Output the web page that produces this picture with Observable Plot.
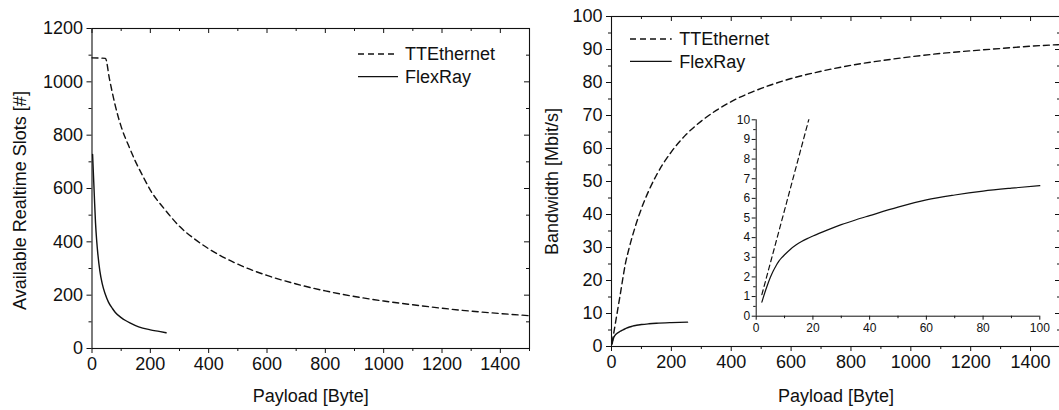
<!DOCTYPE html>
<html><head><meta charset="utf-8">
<script src="https://cdn.jsdelivr.net/npm/d3@7"></script>
<script src="https://cdn.jsdelivr.net/npm/@observablehq/plot@0.6"></script>
<style>
html,body{margin:0;padding:0;background:#fff;overflow:hidden}
#wrap{position:relative;width:1059px;height:410px;overflow:hidden;font-family:"Liberation Sans",Arial,sans-serif}
#wrap > div{position:absolute}
#wrap svg{overflow:visible;max-width:none !important}
</style></head><body><div id="wrap">
<div id="left" style="left:0;top:0;width:530px;height:410px"></div>
<div id="right" style="left:530px;top:0;width:530px;height:410px"></div>
<div id="inset" style="left:720px;top:100px;width:340px;height:250px"></div>
<div id="legL" style="left:350px;top:44px"></div>
<div id="legR" style="left:622px;top:29px"></div>
</div>
<script>
// ---------- data ----------
const seriesNames = ["TTEthernet", "FlexRay"];
const xLabel = "Payload [Byte]";
const yLabelLeft = "Available Realtime Slots [#]";
const yLabelRight = "Bandwidth [Mbit/s]";

// Left: available realtime slots
const slotsTTEPayload = [0, 46, 60, 80, 100, 125, 150, 175, 200, 250, 300, 350, 400, 500, 600, 700, 800, 900, 1000, 1100, 1200, 1300, 1400, 1500];
const slotsTTE        = [1090, 1088, 1010, 910, 832, 762, 699, 645, 594, 521, 458, 412, 374, 316, 274, 242, 216, 195, 178, 164, 151, 140, 131, 123];
const slotsFRPayload  = [2, 5, 8, 12, 16, 20, 27, 35, 45, 56, 70, 80, 100, 115, 130, 160, 200, 230, 254];
const slotsFR         = [728, 650, 572, 472, 405, 355, 290, 243, 205, 175, 150, 135, 116, 105, 96, 81, 70, 64, 59];

// Right: bandwidth
const bwTTEPayload = [2, 10, 20, 30, 46, 60, 80, 100, 125, 150, 200, 250, 300, 400, 500, 600, 700, 800, 900, 1000, 1100, 1200, 1300, 1400, 1500];
const bwTTE        = [1.1, 5.4, 10.8, 16.2, 24.9, 30.2, 36.5, 41.8, 47.3, 51.9, 59.0, 64.3, 68.3, 74.2, 78.2, 81.2, 83.4, 85.2, 86.6, 87.8, 88.8, 89.6, 90.3, 91.0, 91.5];
const bwFRPayload  = [2, 3, 4, 5, 6, 7, 8, 9, 10, 12, 14, 16, 18, 20, 25, 30, 35, 40, 50, 60, 70, 80, 90, 100, 125, 150, 200, 254];
const bwFR         = [0.72, 1.18, 1.6, 1.98, 2.3, 2.57, 2.8, 2.98, 3.13, 3.4, 3.62, 3.8, 3.95, 4.08, 4.38, 4.66, 4.9, 5.12, 5.55, 5.92, 6.17, 6.37, 6.52, 6.65, 6.88, 7.05, 7.25, 7.38];

// Ticks
const xMajor = [0, 200, 400, 600, 800, 1000, 1200, 1400];
const xMinor = [100, 300, 500, 700, 900, 1100, 1300, 1500];
const yMajorL = [0, 200, 400, 600, 800, 1000, 1200];
const yMinorL = [100, 300, 500, 700, 900, 1100];
const yMajorR = [0, 10, 20, 30, 40, 50, 60, 70, 80, 90, 100];
const yMinorR = [5, 15, 25, 35, 45, 55, 65, 75, 85, 95];
const xMajorIn = [0, 20, 40, 60, 80, 100];
const xMinorIn = [10, 30, 50, 70, 90];
const yMajorIn = [0, 1, 2, 3, 4, 5, 6, 7, 8, 9, 10];
const yMinorIn = [0.5, 1.5, 2.5, 3.5, 4.5, 5.5, 6.5, 7.5, 8.5, 9.5];

const zip = (xs, ys) => xs.map((x, i) => ({x, y: ys[i]}));
const font = "'Liberation Sans', Arial, sans-serif";
const ink = "#111";
const dash = "6,4";
const mainFont = "18px";

function mainChart({width, height, margins, yDomain, xMaj, xMin, yMaj, yMin, tte, fr, yLabel, yLabelDx, yLabelDy, xLabelDy}) {
  const fw = width - margins.left - margins.right;
  const fh = height - margins.top - margins.bottom;
  return Plot.plot({
    width, height,
    marginLeft: margins.left, marginRight: margins.right, marginTop: margins.top, marginBottom: margins.bottom,
    x: {domain: [0, 1500]},
    y: {domain: yDomain},
    style: {fontFamily: font, fontSize: mainFont, color: ink, background: "transparent", overflow: "visible"},
    marks: [
      Plot.line(tte, {x: "x", y: "y", stroke: ink, strokeWidth: 1.4, strokeDasharray: dash, curve: "monotone-x"}),
      Plot.line(fr, {x: "x", y: "y", stroke: ink, strokeWidth: 1.4, curve: "monotone-x"}),
      Plot.frame({stroke: ink, strokeWidth: 1.1}),
      Plot.axisX(xMaj, {anchor: "bottom", tickSize: 5, tickPadding: 4, label: null, tickFormat: d => String(d), stroke: ink}),
      Plot.axisX(xMin, {anchor: "bottom", tickSize: 3, label: null, tickFormat: () => "", stroke: ink}),
      Plot.axisY(yMaj, {anchor: "left", tickSize: 5, tickPadding: 4, label: null, tickFormat: d => String(d), stroke: ink}),
      Plot.axisY(yMin, {anchor: "left", tickSize: 3, label: null, tickFormat: () => "", stroke: ink}),
      Plot.tickX(xMaj, {x: d => d, insetBottom: fh - 5, stroke: ink}),
      Plot.tickX(xMin, {x: d => d, insetBottom: fh - 3, stroke: ink}),
      Plot.tickY(yMaj, {y: d => d, insetLeft: fw - 5, stroke: ink}),
      Plot.tickY(yMin, {y: d => d, insetLeft: fw - 3, stroke: ink}),
      Plot.text([xLabel], {frameAnchor: "bottom", textAnchor: "middle", lineAnchor: "middle", dy: xLabelDy, fill: ink}),
      Plot.text([yLabel], {frameAnchor: "left", textAnchor: "middle", lineAnchor: "middle", rotate: -90, dx: yLabelDx, dy: yLabelDy, fill: ink})
    ]
  });
}

document.getElementById("left").append(mainChart({
  width: 530, height: 410,
  margins: {left: 91.5, right: 1, top: 28, bottom: 62},
  yDomain: [0, 1200], xMaj: xMajor, xMin: xMinor, yMaj: yMajorL, yMin: yMinorL,
  tte: zip(slotsTTEPayload, slotsTTE), fr: zip(slotsFRPayload, slotsFR),
  yLabel: yLabelLeft, yLabelDx: -71.5, yLabelDy: 12, xLabelDy: 48
}));

document.getElementById("right").append(mainChart({
  width: 530, height: 410,
  margins: {left: 81, right: 0, top: 16, bottom: 64},
  yDomain: [0, 100], xMaj: xMajor, xMin: xMinor, yMaj: yMajorR, yMin: yMinorR,
  tte: zip(bwTTEPayload, bwTTE), fr: zip(bwFRPayload, bwFR),
  yLabel: yLabelRight, yLabelDx: -59.5, yLabelDy: 0, xLabelDy: 50
}));

// Inset
const insetTTE = zip(bwTTEPayload, bwTTE).filter(d => d.x <= 30);
const insetFR = zip(bwFRPayload, bwFR).filter(d => d.x <= 100);
document.getElementById("inset").append(Plot.plot({
  width: 340, height: 250,
  marginLeft: 35.7, marginRight: 20.7, marginTop: 19.3, marginBottom: 34.3,
  x: {domain: [0, 100]},
  y: {domain: [0, 10]},
  style: {fontFamily: font, fontSize: "12px", color: ink, background: "transparent", overflow: "visible"},
  marks: [
    Plot.line(insetTTE, {x: "x", y: "y", stroke: ink, strokeWidth: 1.2, strokeDasharray: "5,3.5", clip: true}),
    Plot.line(insetFR, {x: "x", y: "y", stroke: ink, strokeWidth: 1.2, curve: "monotone-x"}),
    Plot.ruleY([0], {stroke: ink}),
    Plot.ruleX([0], {stroke: ink}),
    Plot.axisX(xMajorIn, {anchor: "bottom", tickSize: 4, tickPadding: 3, label: null, tickFormat: d => String(d), stroke: ink}),
    Plot.axisX(xMinorIn, {anchor: "bottom", tickSize: 2.5, label: null, tickFormat: () => "", stroke: ink}),
    Plot.axisY(yMajorIn, {anchor: "left", tickSize: 4, tickPadding: 2, label: null, tickFormat: d => String(d), stroke: ink}),
    Plot.axisY(yMinorIn, {anchor: "left", tickSize: 2.5, label: null, tickFormat: () => "", stroke: ink})
  ]
}));

// Legends
function legend(id, lineLen, gap, rowH) {
  const w = 180, h = 2 * rowH + 6;
  const svg = d3.select("#" + id).append("svg").attr("width", w).attr("height", h);
  seriesNames.forEach((name, i) => {
    const y = 10 + i * rowH;
    svg.append("line").attr("x1", 8).attr("x2", 8 + lineLen).attr("y1", y).attr("y2", y)
      .attr("stroke", ink).attr("stroke-width", 1.3).attr("stroke-dasharray", i === 0 ? dash : null);
    svg.append("text").attr("x", 8 + lineLen + gap).attr("y", y).attr("dy", "0.35em")
      .attr("font-family", font).attr("font-size", mainFont).attr("fill", ink).text(name);
  });
}
legend("legL", 40, 7, 22.6);
legend("legR", 41.7, 7.5, 22.3);
</script>
</body></html>
